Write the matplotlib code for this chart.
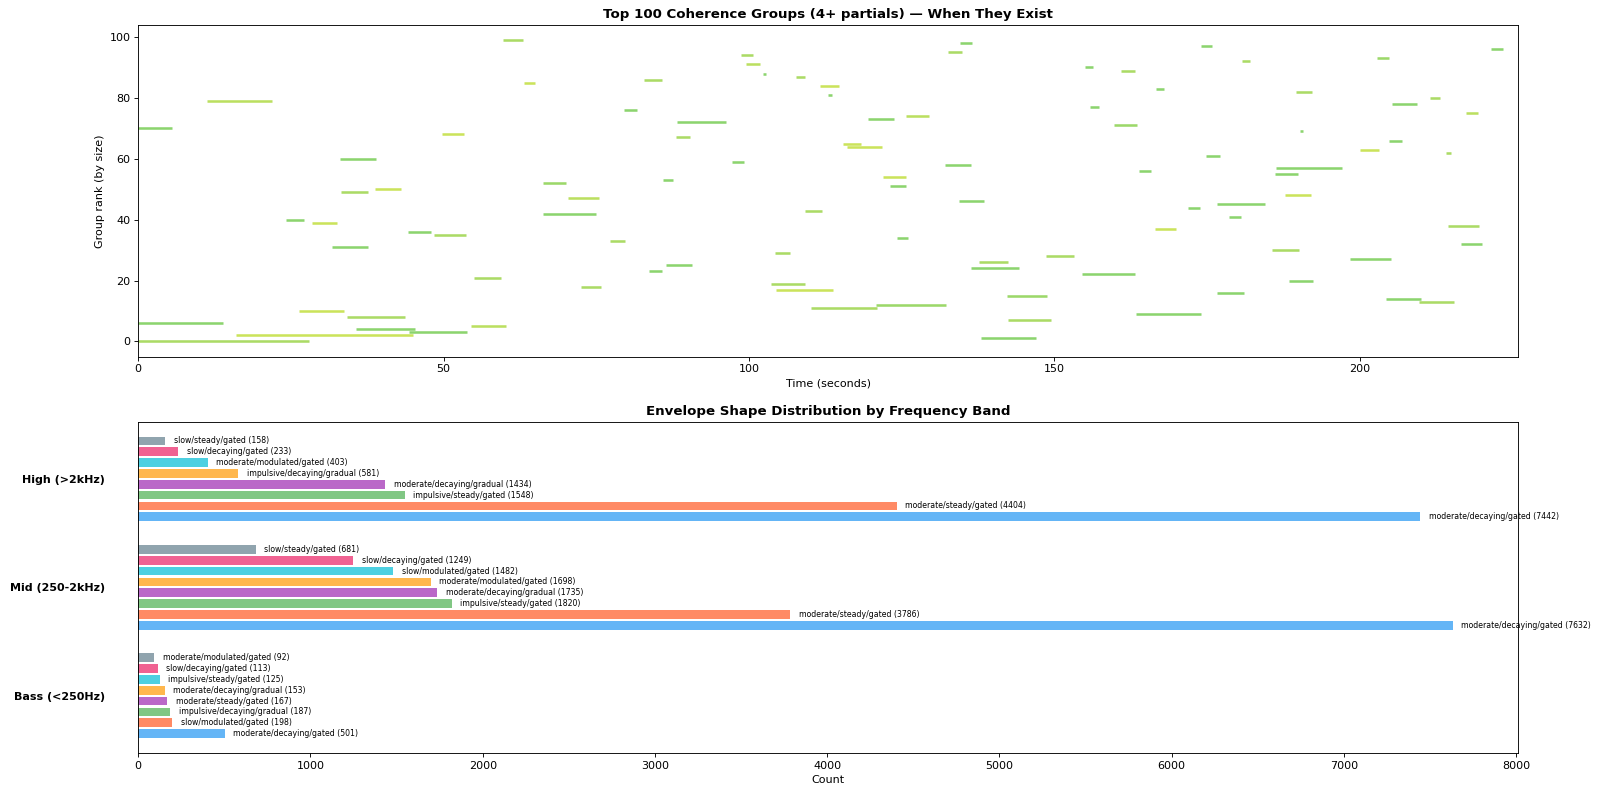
import matplotlib
matplotlib.use("Agg")
import matplotlib.pyplot as plt
from matplotlib.colors import LinearSegmentedColormap, Normalize
import numpy as np

# coherence groups: rank -> (start, end) in seconds, colour score (0.7 yellowish .. 0.9 green)
group_start = [0.0, 138.0, 16.0, 44.3, 35.7, 54.5, 0.0, 142.4, 34.2, 163.4,
               26.4, 110.1, 120.8, 209.7, 204.3, 142.2, 176.6, 104.4, 72.5, 103.6,
               188.5, 55.0, 154.6, 83.6, 136.4, 86.5, 137.7, 198.5, 148.7, 104.3,
               185.6, 31.7, 216.6, 77.3, 124.3, 48.4, 44.2, 166.5, 214.4, 28.5,
               24.2, 178.6, 66.3, 109.1, 171.9, 176.7, 134.4, 70.4, 187.7, 33.2,
               38.8, 123.1, 66.3, 85.9, 122.0, 186.1, 163.8, 186.3, 132.1, 97.3,
               33.0, 174.9, 214.1, 200.0, 116.0, 115.4, 204.8, 88.0, 49.8, 190.2,
               0.0, 159.8, 88.3, 119.5, 125.8, 217.5, 79.5, 155.8, 205.3, 11.2,
               211.5, 113.0, 189.6, 166.7, 111.7, 63.2, 82.8, 107.7, 102.3, 161.0,
               155.0, 99.5, 180.7, 202.9, 98.7, 132.6, 221.5, 174.0, 134.5, 59.8]
group_end = [28.0, 147.0, 45.0, 53.9, 45.3, 60.3, 13.8, 149.4, 43.6, 174.1,
             33.7, 120.9, 132.2, 215.5, 210.1, 148.8, 181.1, 113.8, 75.8, 109.2,
             192.3, 59.4, 163.2, 85.8, 144.2, 90.6, 142.5, 205.2, 153.3, 106.8,
             190.1, 37.7, 220.1, 79.7, 126.1, 53.6, 48.0, 169.9, 219.5, 32.5,
             27.1, 180.6, 75.0, 112.0, 173.9, 184.5, 138.5, 75.4, 192.0, 37.6,
             43.1, 125.8, 70.0, 87.6, 125.7, 189.9, 165.8, 197.1, 136.3, 99.2,
             38.9, 177.1, 215.0, 203.2, 121.8, 118.4, 207.0, 90.3, 53.3, 190.7,
             5.6, 163.6, 96.3, 123.7, 129.5, 219.4, 81.6, 157.4, 209.4, 21.9,
             213.2, 113.6, 192.2, 167.9, 114.8, 64.9, 85.8, 109.2, 102.8, 163.3,
             156.3, 101.8, 182.1, 204.8, 100.7, 134.9, 223.5, 175.8, 136.6, 63.0]
group_score = [0.8, 0.9, 0.7, 0.9, 0.9, 0.75, 0.9, 0.8, 0.8, 0.9,
               0.7, 0.8, 0.85, 0.8, 0.9, 0.85, 0.9, 0.7, 0.8, 0.8,
               0.9, 0.8, 0.9, 0.9, 0.9, 0.9, 0.8, 0.9, 0.8, 0.8,
               0.8, 0.9, 0.9, 0.8, 0.9, 0.8, 0.9, 0.7, 0.8, 0.7,
               0.9, 0.9, 0.9, 0.8, 0.9, 0.9, 0.9, 0.75, 0.7, 0.8,
               0.7, 0.9, 0.85, 0.9, 0.7, 0.9, 0.9, 0.9, 0.9, 0.9,
               0.9, 0.9, 0.8, 0.7, 0.7, 0.7, 0.9, 0.8, 0.7, 0.9,
               0.9, 0.85, 0.9, 0.9, 0.75, 0.75, 0.9, 0.9, 0.9, 0.75,
               0.8, 0.9, 0.8, 0.9, 0.7, 0.7, 0.8, 0.8, 0.9, 0.8,
               0.9, 0.75, 0.8, 0.85, 0.8, 0.8, 0.9, 0.9, 0.9, 0.8]
duration = 226.0

# envelope shapes per band, largest first
bands = ["Bass (<250Hz)", "Mid (250-2kHz)", "High (>2kHz)"]
bass_shapes = ["moderate/decaying/gated", "slow/modulated/gated", "impulsive/decaying/gradual",
               "moderate/steady/gated", "moderate/decaying/gradual", "impulsive/steady/gated",
               "slow/decaying/gated", "moderate/modulated/gated"]
bass_counts = [501, 198, 187, 167, 153, 125, 113, 92]
mid_shapes = ["moderate/decaying/gated", "moderate/steady/gated", "impulsive/steady/gated",
              "moderate/decaying/gradual", "moderate/modulated/gated", "slow/modulated/gated",
              "slow/decaying/gated", "slow/steady/gated"]
mid_counts = [7632, 3786, 1820, 1735, 1698, 1482, 1249, 681]
high_shapes = ["moderate/decaying/gated", "moderate/steady/gated", "impulsive/steady/gated",
               "moderate/decaying/gradual", "impulsive/decaying/gradual", "moderate/modulated/gated",
               "slow/decaying/gated", "slow/steady/gated"]
high_counts = [7442, 4404, 1548, 1434, 581, 403, 233, 158]
bar_colors = ["#64b5f6", "#ff8a65", "#81c784", "#ba68c8", "#ffb74d", "#4dd0e1", "#f06292", "#90a4ae"]

fig, (ax1, ax2) = plt.subplots(2, 1, figsize=(20, 9.925), dpi=80)
fig.subplots_adjust(left=0.0864, right=0.949, top=0.9685, bottom=0.0516, hspace=0.196)

# top: when groups exist
cmap = LinearSegmentedColormap.from_list("yg", ["#cbe35b", "#8cd46e"])
norm = Normalize(0.7, 0.9)
for rank in range(len(group_start)):
    ax1.hlines(rank, group_start[rank], group_end[rank], color=cmap(norm(group_score[rank])),
               linewidth=2.3)
ax1.set_xlim(0, duration)
ax1.set_xlabel("Time (seconds)")
ax1.set_ylabel("Group rank (by size)")
ax1.set_title("Top 100 Coherence Groups (4+ partials) — When They Exist", fontsize=12, fontweight="bold")

# bottom: envelope shapes
band_data = [(bass_shapes, bass_counts), (mid_shapes, mid_counts), (high_shapes, high_counts)]
for b, (shapes, counts) in enumerate(band_data):
    for i in range(len(counts)):
        y = b + (i - 3.5) * 0.1
        ax2.barh(y, counts[i], height=0.08, color=bar_colors[i])
        ax2.text(counts[i] + 50, y, f"{shapes[i]} ({counts[i]})", va="center", fontsize=7)
ax2.set_yticks(range(len(bands)))
ax2.set_yticklabels(bands, fontsize=10, fontweight="bold")
ax2.tick_params(axis="y", length=0, pad=30)
ax2.set_xlabel("Count")
ax2.set_title("Envelope Shape Distribution by Frequency Band", fontsize=12, fontweight="bold")

plt.savefig("out.png", dpi=80)
